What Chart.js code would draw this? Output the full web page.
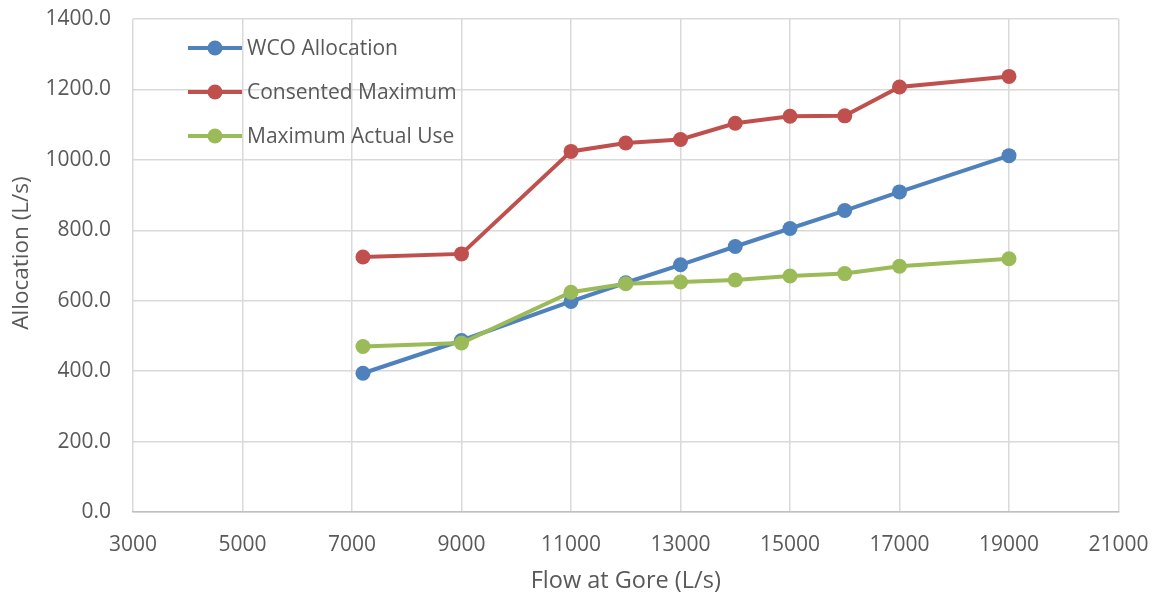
<!DOCTYPE html>
<html>
<head>
<meta charset="utf-8">
<script src="https://cdn.jsdelivr.net/npm/chart.js@4/dist/chart.umd.min.js"></script>
<style>
  html, body { margin: 0; padding: 0; background: #ffffff; }
  #wrap { width: 1152px; height: 596px; position: relative; }
</style>
</head>
<body>
<div id="wrap"><canvas id="chart"></canvas></div>
<script>
// Flow at Gore (L/s) for each allocation scenario
const flows = [7200, 9000, 11000, 12000, 13000, 14000, 15000, 16000, 17000, 19000];

// Allocation (L/s) per series
const wcoAllocation     = [394, 487, 598, 651, 702, 754, 805, 856, 909, 1012];
const consentedMaximum  = [724, 733, 1024, 1048, 1058, 1104, 1124, 1125, 1207, 1237];
const maximumActualUse  = [470, 480, 624, 648, 653, 659, 670, 677, 698, 719];

const seriesNames  = ['WCO Allocation', 'Consented Maximum', 'Maximum Actual Use'];
const seriesColors = ['#4F81BD', '#C0504D', '#9BBB59'];

const xTitle = 'Flow at Gore (L/s)';
const yTitle = 'Allocation (L/s)';

const FONT = '"Open Sans", "Noto Sans", sans-serif';
const TEXT = '#595959';

function toPoints(values) {
  return values.map((v, i) => ({ x: flows[i], y: v }));
}

function makeDataset(idx, values, order) {
  return {
    label: seriesNames[idx],
    data: toPoints(values),
    borderColor: seriesColors[idx],
    backgroundColor: seriesColors[idx],
    pointBackgroundColor: seriesColors[idx],
    pointBorderColor: seriesColors[idx],
    borderWidth: 4,
    pointRadius: 7.5,
    pointBorderWidth: 0,
    pointHoverRadius: 7.5,
    tension: 0,
    order: order
  };
}

// Legend drawn inside the plot area, line + marker per series
const insideLegend = {
  id: 'insideLegend',
  afterDatasetsDraw(chart) {
    const ctx = chart.ctx;
    const x0 = 188, x1 = 242, mx = 215, tx = 247;
    const rows = [48, 92, 136];
    ctx.save();
    chart.data.datasets.forEach((ds, i) => {
      const y = rows[i];
      ctx.strokeStyle = ds.borderColor;
      ctx.lineWidth = 4;
      ctx.beginPath();
      ctx.moveTo(x0, y);
      ctx.lineTo(x1, y);
      ctx.stroke();
      ctx.fillStyle = ds.borderColor;
      ctx.beginPath();
      ctx.arc(mx, y, 7.5, 0, Math.PI * 2);
      ctx.fill();
      ctx.fillStyle = TEXT;
      ctx.font = '21px ' + FONT;
      ctx.textAlign = 'left';
      ctx.textBaseline = 'middle';
      ctx.fillText(ds.label, tx, y + 1);
    });
    ctx.restore();
  }
};

// Axis titles
const axisTitles = {
  id: 'axisTitles',
  afterDraw(chart) {
    const ctx = chart.ctx;
    const area = chart.chartArea;
    ctx.save();
    ctx.fillStyle = TEXT;
    ctx.textAlign = 'center';
    ctx.textBaseline = 'middle';
    ctx.font = '23.5px ' + FONT;
    ctx.fillText(xTitle, (area.left + area.right) / 2, 581);
    ctx.font = '22.5px ' + FONT;
    ctx.translate(22, 253);
    ctx.rotate(-Math.PI / 2);
    ctx.fillText(yTitle, 0, 0);
    ctx.restore();
  }
};

const gridStyle = {
  color: '#d9d9d9',
  lineWidth: 1.5,
  drawTicks: true,
  tickLength: 22,
  tickColor: 'rgba(0,0,0,0)'
};

new Chart(document.getElementById('chart'), {
  type: 'line',
  data: {
    datasets: [
      makeDataset(0, wcoAllocation, 3),
      makeDataset(1, consentedMaximum, 2),
      makeDataset(2, maximumActualUse, 1)
    ]
  },
  options: {
    responsive: true,
    maintainAspectRatio: false,
    animation: false,
    devicePixelRatio: 1,
    layout: { padding: { left: 0, top: 19, right: 33.5, bottom: 0 } },
    plugins: {
      legend: { display: false },
      tooltip: { enabled: false }
    },
    scales: {
      x: {
        type: 'linear',
        min: 3000,
        max: 21000,
        ticks: {
          stepSize: 2000,
          color: TEXT,
          font: { family: FONT, size: 21 },
          padding: 0,
          maxRotation: 0,
          callback: v => String(v)
        },
        grid: Object.assign({}, gridStyle, { tickLength: 20 }),
        border: { display: true, color: '#bfbfbf', width: 1.5 },
        afterFit(scale) { scale.height = 84; }
      },
      y: {
        min: 0,
        max: 1400,
        ticks: {
          stepSize: 200,
          color: TEXT,
          font: { family: FONT, size: 21 },
          padding: 0,
          callback: v => Number(v).toFixed(1)
        },
        grid: gridStyle,
        border: { display: false },
        afterFit(scale) { scale.width = 133; }
      }
    }
  },
  plugins: [insideLegend, axisTitles]
});
</script>
</body>
</html>
